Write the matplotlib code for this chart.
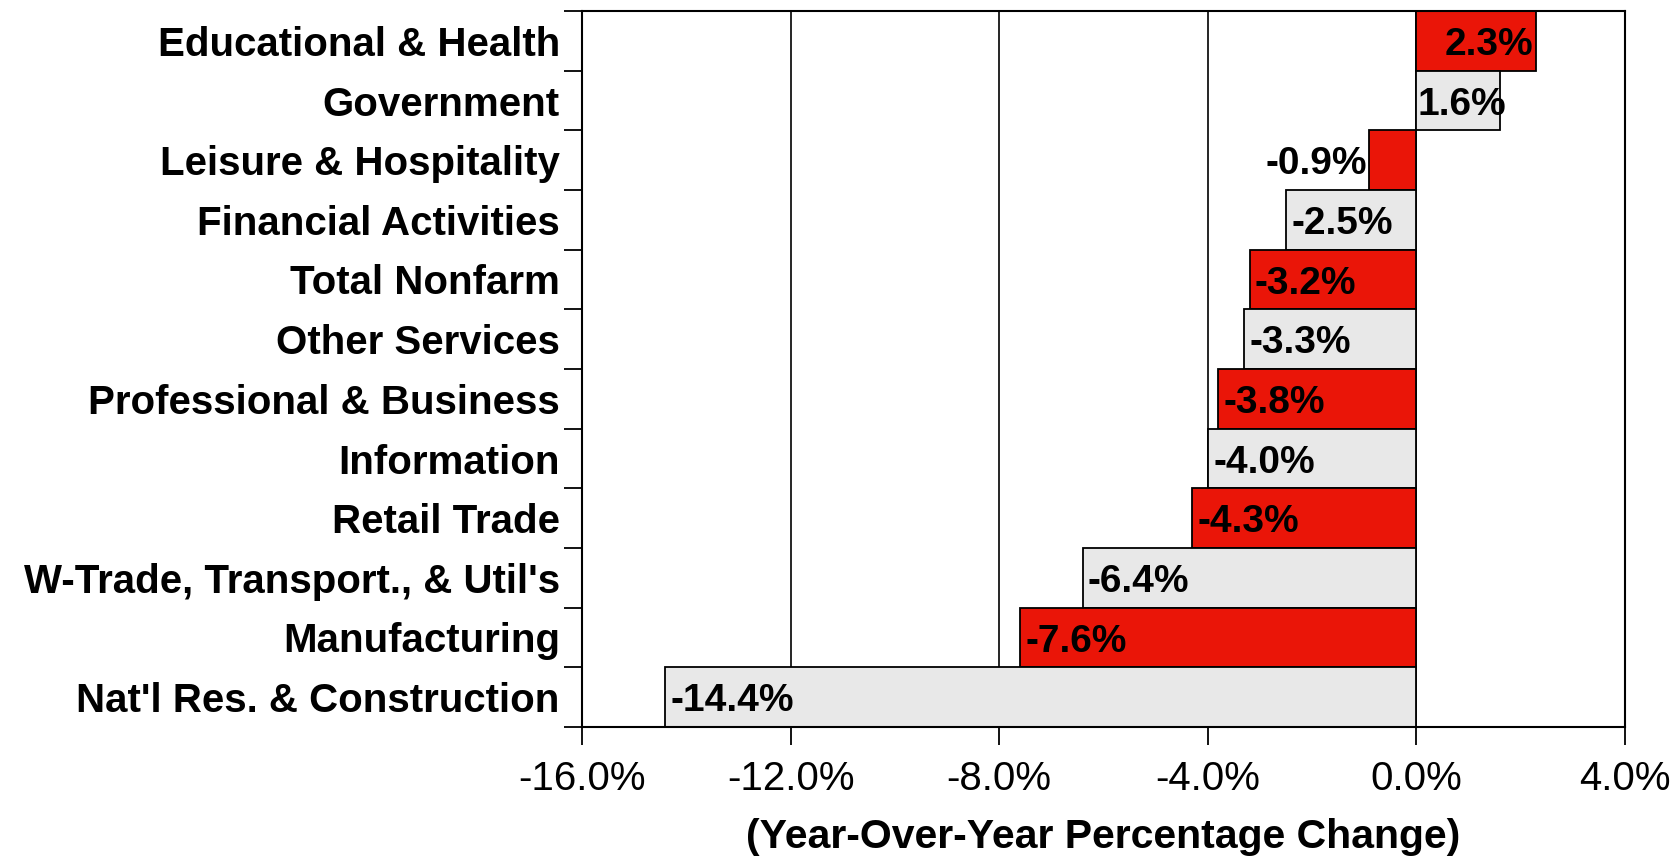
import matplotlib.pyplot as plt
import numpy as np
from matplotlib.ticker import FixedLocator, FuncFormatter

plt.rcParams["font.family"] = ["Liberation Sans", "DejaVu Sans"]

categories = [
    "Educational & Health",
    "Government",
    "Leisure & Hospitality",
    "Financial Activities",
    "Total Nonfarm",
    "Other Services",
    "Professional & Business",
    "Information",
    "Retail Trade",
    "W-Trade, Transport., & Util's",
    "Manufacturing",
    "Nat'l Res. & Construction",
]
values = [2.3, 1.6, -0.9, -2.5, -3.2, -3.3, -3.8, -4.0, -4.3, -6.4, -7.6, -14.4]

RED = "#EA1508"
GRAY = "#E8E8E8"
colors = [RED if i % 2 == 0 else GRAY for i in range(len(values))]

fig = plt.figure(figsize=(16.78, 8.58), dpi=100)
ax = fig.add_axes([582 / 1678, 1 - 727 / 858, (1625 - 582) / 1678, (727 - 11) / 858])

y = np.arange(len(categories))
for gx in [-12, -8, -4, 0]:
    ax.axvline(gx, color="black", lw=1.2, zorder=1)
ax.barh(y, values, height=1.0, color=colors, edgecolor="black", linewidth=1.3, zorder=2)

ax.set_xlim(-16, 4)
ax.set_ylim(len(categories) - 0.5, -0.5)

# value labels
lab = dict(va="center", fontsize=28, fontweight="bold", zorder=3)
for yi, v in zip(y, values):
    txt = f"{v:.1f}%"
    ty = yi + 0.07
    if v >= 2:
        ax.text(v - 0.05, ty, txt, ha="right", **lab)
    elif v > 0:
        ax.text(0.02, ty, txt, ha="left", **lab)
    elif v > -1.5:
        ax.text(v - 0.05, ty, txt, ha="right", **lab)
    else:
        ax.text(v + 0.1, ty, txt, ha="left", **lab)

ax.set_xticks([-16, -12, -8, -4, 0, 4])
ax.xaxis.set_major_formatter(FuncFormatter(lambda x, p: f"{x:.1f}%"))
ax.tick_params(axis="x", length=13, width=1.3, labelsize=29, pad=11, direction="out")

ax.yaxis.set_major_locator(FixedLocator(np.arange(-0.5, len(categories), 1.0)))
ax.yaxis.set_minor_locator(FixedLocator(y))
ax.set_yticklabels([], minor=False)
ax.set_yticklabels(categories, minor=True, fontsize=29, fontweight="bold")
ax.tick_params(axis="y", which="major", length=13, width=1.3)
ax.tick_params(axis="y", which="minor", length=0, pad=16)

for s in ax.spines.values():
    s.set_linewidth(1.5)

ax.set_xlabel("(Year-Over-Year Percentage Change)", fontsize=29.5, fontweight="bold", labelpad=14)

fig.savefig("out.png", dpi=100)
